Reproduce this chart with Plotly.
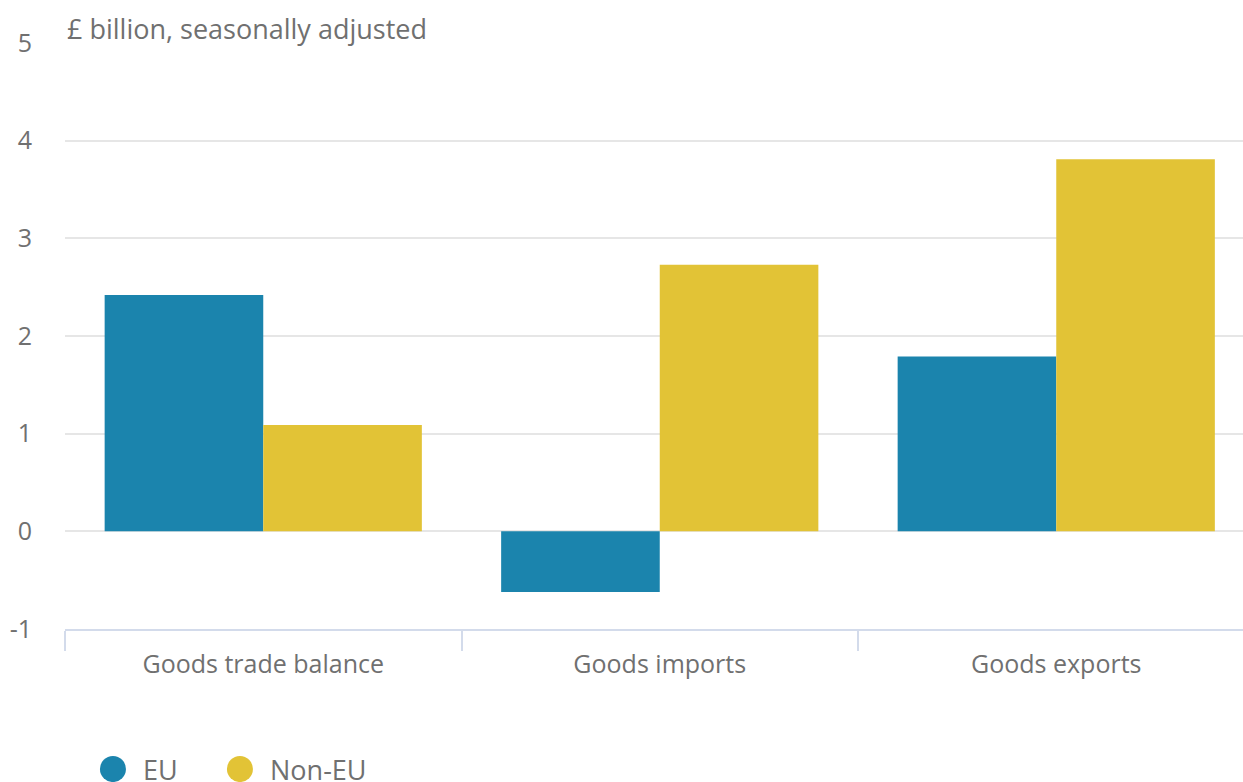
import plotly.graph_objects as go

categories = ["Goods trade balance", "Goods imports", "Goods exports"]
eu_values = [2.42, -0.62, 1.79]
non_eu_values = [1.09, 2.73, 3.81]
series_names = ["EU", "Non-EU"]
series_colors = ["#1b84ad", "#e2c336"]
y_ticks = [-1, 0, 1, 2, 3, 4, 5]
y_tick_labels = ["-1", "0", "1", "2", "3", "4", "5"]
unit_label = "£ billion, seasonally adjusted"

FONT = "Open Sans"
TEXT = "#707070"

fig = go.Figure()
for name, vals, col in zip(series_names, [eu_values, non_eu_values], series_colors):
    fig.add_trace(go.Bar(x=categories, y=vals, name=name, marker_color=col,
                         marker_line_width=0, showlegend=False))

fig.update_layout(
    width=1243, height=782,
    margin=dict(l=65, r=0, t=43, b=153),
    paper_bgcolor="white", plot_bgcolor="white",
    barmode="group", bargap=0.2, bargroupgap=0,
    font=dict(family=FONT, size=25, color=TEXT),
)
fig.update_xaxes(
    type="category", range=[-0.5, 2.471],
    showgrid=False, showline=True, linecolor="#d3dbeb", linewidth=2,
    ticks="outside", tickson="boundaries", ticklen=20, tickwidth=2, tickcolor="#d3dbeb",
    ticklabelstandoff=12,
    tickfont=dict(family=FONT, size=25, color=TEXT),
)
fig.update_yaxes(
    range=[-1, 5], tickvals=y_ticks, ticktext=y_tick_labels,
    showgrid=True, gridcolor="#e6e6e6", gridwidth=2,
    zeroline=True, zerolinecolor="#e6e6e6", zerolinewidth=2, showline=False,
    ticks="", ticklabelstandoff=32,
    tickfont=dict(family=FONT, size=25, color=TEXT),
)

fig.add_annotation(text=unit_label, xref="paper", yref="paper", x=0.0, y=1,
                   xanchor="left", yanchor="middle", yshift=15, showarrow=False,
                   font=dict(family=FONT, size=27, color=TEXT))

# legend drawn as circles with labels below the plot
legend_x = [0.0407, 0.1485]
for name, col, lx in zip(series_names, series_colors, legend_x):
    fig.add_shape(type="circle", xref="paper", yref="paper", xsizemode="pixel", ysizemode="pixel",
                  xanchor=lx, yanchor=-0.239, x0=-13, x1=13, y0=-13, y1=13,
                  fillcolor=col, line_width=0)
    fig.add_annotation(text=name, xref="paper", yref="paper", x=lx, y=-0.239, xshift=28,
                       xanchor="left", yanchor="middle", showarrow=False,
                       font=dict(family=FONT, size=27, color=TEXT))

fig.write_html("out.html")
